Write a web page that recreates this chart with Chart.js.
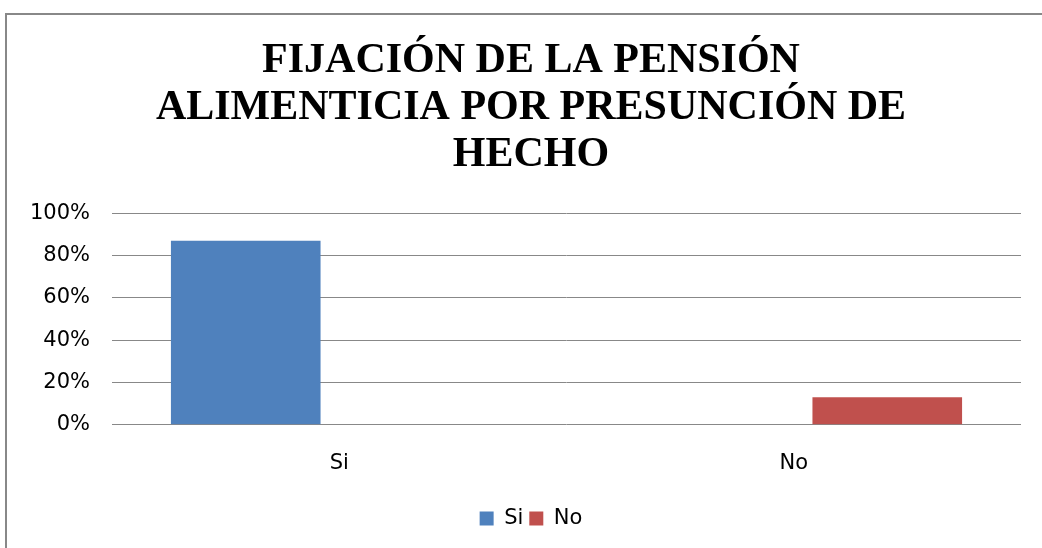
<!DOCTYPE html>
<html>
<head>
<meta charset="utf-8">
<script src="https://cdn.jsdelivr.net/npm/chart.js@4.4.1/dist/chart.umd.min.js"></script>
<style>
  html, body { margin: 0; padding: 0; background: #fff; overflow: hidden; }
  #frame {
    position: absolute; left: 5px; top: 13px;
    width: 1052px; height: 560px;
    box-sizing: border-box;
    border: 2px solid #888;
    background: #fff;
  }
  #chartBox { position: relative; width: 1048px; height: 556px; }
</style>
</head>
<body>
<div id="frame">
  <div id="chartBox"><canvas id="chart"></canvas></div>
</div>
<script>
// Chart data
const categories = ['Si', 'No'];
const siValues = [0.87, 0];
const noValues = [0, 0.13];
const titleLines = ['FIJACIÓN DE LA PENSIÓN', 'ALIMENTICIA POR PRESUNCIÓN DE', 'HECHO'];

const labelFont = { family: 'DejaVu Sans', size: 21 };

const ctx = document.getElementById('chart').getContext('2d');
new Chart(ctx, {
  type: 'bar',
  data: {
    labels: categories,
    datasets: [
      { label: 'Si', data: siValues, backgroundColor: '#4F81BD' },
      { label: 'No', data: noValues, backgroundColor: '#C0504D' }
    ]
  },
  options: {
    responsive: true,
    maintainAspectRatio: false,
    animation: false,
    layout: { padding: { left: 10, right: 10, top: 0, bottom: 32 } },
    categoryPercentage: 0.823,
    barPercentage: 0.8,
    plugins: {
      title: {
        display: true,
        text: titleLines,
        color: '#000',
        font: { family: 'Liberation Serif', size: 42, weight: 'bold', lineHeight: 1.12 },
        padding: { top: 23, bottom: 34 }
      },
      legend: {
        position: 'bottom',
        labels: {
          color: '#000',
          font: labelFont,
          boxWidth: 14,
          boxHeight: 14,
          padding: 6
        }
      },
      tooltip: { enabled: false }
    },
    scales: {
      x: {
        grid: { display: false, drawTicks: false },
        border: { display: false },
        ticks: { color: '#000', font: labelFont, padding: 26 }
      },
      y: {
        min: 0,
        max: 1,
        afterFit: s => { s.width = 95; },
        grid: { color: '#888', drawTicks: false, lineWidth: 1 },
        border: { display: false },
        ticks: {
          stepSize: 0.2,
          color: '#000',
          font: labelFont,
          padding: 22,
          callback: v => Math.round(v * 100) + '%'
        }
      },
      // empty right-hand axis, only to keep the right margin
      yRight: {
        position: 'right',
        min: 0,
        max: 1,
        afterFit: s => { s.width = 24; },
        grid: { display: false, drawTicks: false },
        border: { display: false },
        ticks: { display: false }
      }
    }
  }
});
</script>
</body>
</html>
